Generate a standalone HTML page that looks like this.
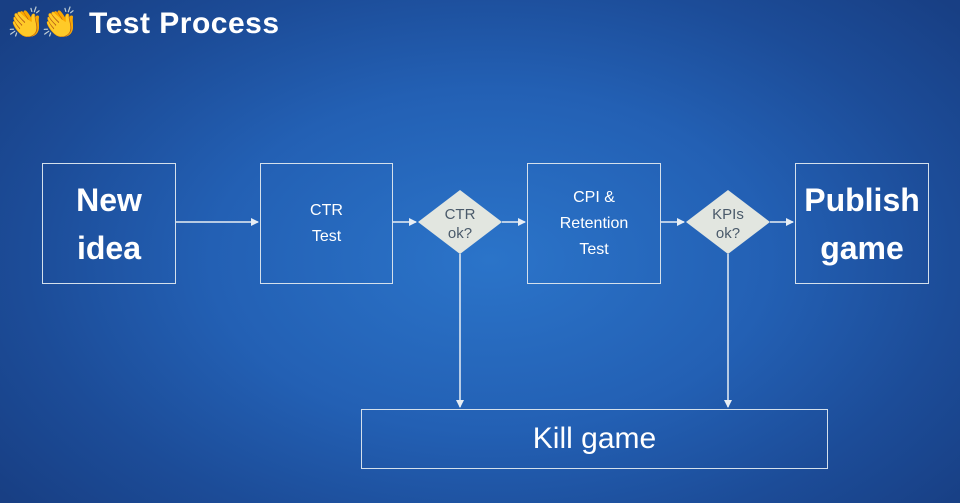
<!DOCTYPE html>
<html><head><style>
html,body{margin:0;padding:0;}
body{width:960px;height:503px;overflow:hidden;position:relative;font-family:"Liberation Sans",sans-serif;
background:radial-gradient(ellipse 620px 380px at 490px 260px,#2b74c9 0%,#2360b4 45%,#1c4c98 75%,#183f84 100%);}
.t{position:absolute;left:89px;top:7px;color:#fff;font-weight:bold;font-size:30px;letter-spacing:0.5px;}
.box{position:absolute;border:1.5px solid #d4e0ec;box-sizing:border-box;color:#fff;display:flex;align-items:center;justify-content:center;text-align:center;}
.big{font-weight:bold;font-size:32px;line-height:48px;}
.sm{font-size:16px;line-height:26px;}
svg{position:absolute;left:0;top:0;}
</style></head><body>
<div style="position:absolute;left:7px;top:7px;font-size:30px;line-height:34px;letter-spacing:-3px;">👏👏</div>
<div class="t">Test Process</div>
<div class="box big" style="left:42px;top:163px;width:134px;height:121px;">New<br>idea</div>
<div class="box sm" style="left:260px;top:163px;width:133px;height:121px;">CTR<br>Test</div>
<div class="box sm" style="left:527px;top:163px;width:134px;height:121px;">CPI &amp;<br>Retention<br>Test</div>
<div class="box big" style="left:795px;top:163px;width:134px;height:121px;">Publish<br>game</div>
<div class="box" style="left:361px;top:409px;width:467px;height:60px;font-size:30px;">Kill game</div>
<svg width="960" height="503">
<defs><marker id="a" markerWidth="8" markerHeight="8" refX="7" refY="4" orient="auto" markerUnits="userSpaceOnUse"><path d="M0,0 L8,4 L0,8 z" fill="#e8eef4"/></marker></defs>
<g stroke="#e8eef4" stroke-width="1.5" fill="none">
<line x1="176" y1="222" x2="258" y2="222" marker-end="url(#a)"/>
<line x1="393" y1="222" x2="416" y2="222" marker-end="url(#a)"/>
<line x1="502" y1="222" x2="525" y2="222" marker-end="url(#a)"/>
<line x1="661" y1="222" x2="684" y2="222" marker-end="url(#a)"/>
<line x1="770" y1="222" x2="793" y2="222" marker-end="url(#a)"/>
<line x1="460" y1="254" x2="460" y2="407" marker-end="url(#a)"/>
<line x1="728" y1="254" x2="728" y2="407" marker-end="url(#a)"/>
</g>
<polygon points="460,190 502,222 460,254 418,222" fill="#e2e6e0"/>
<polygon points="728,190 770,222 728,254 686,222" fill="#e2e6e0"/>
<g font-family="Liberation Sans,sans-serif" font-size="15" fill="#4a5a6a" text-anchor="middle">
<text x="460" y="219">CTR</text><text x="460" y="238">ok?</text>
<text x="728" y="219">KPIs</text><text x="728" y="238">ok?</text>
</g>
</svg>
</body></html>
